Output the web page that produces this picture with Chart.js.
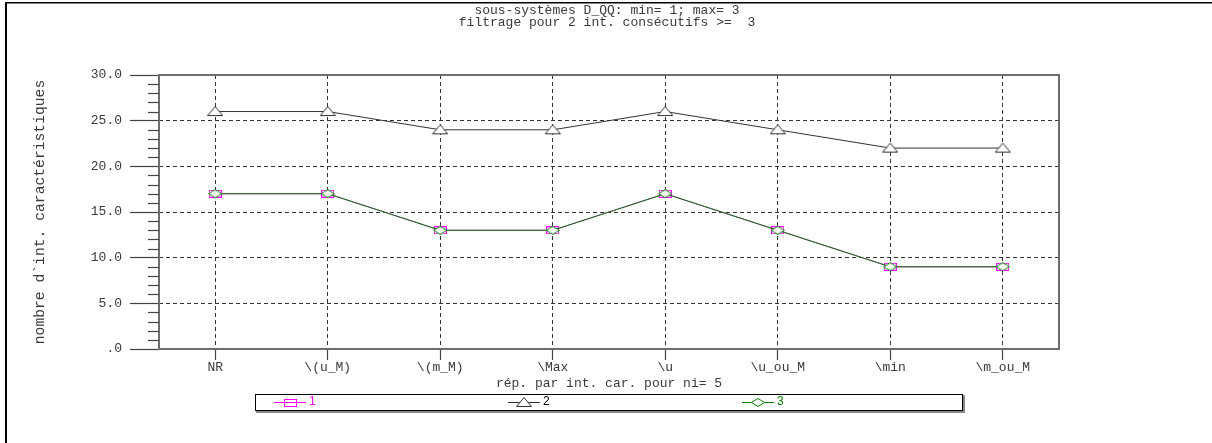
<!DOCTYPE html>
<html><head><meta charset="utf-8">
<script src="https://cdn.jsdelivr.net/npm/chart.js@4.4.1/dist/chart.umd.min.js"></script>
<style>html,body{margin:0;padding:0;background:#fff;overflow:hidden}canvas{display:block}</style>
</head><body><canvas id="c" width="1212" height="443"></canvas>
<script>
const categories = ['NR','\\(u_M)','\\(m_M)','\\Max','\\u','\\u_ou_M','\\min','\\m_ou_M'];
const series1Values = [17,17,13,13,17,13,9,9];
const series2Values = [26,26,24,24,26,24,22,22];
const series3Values = [17,17,13,13,17,13,9,9];
const seriesNames = ['1','2','3'];
const yTickLabels = ['.0','5.0','10.0','15.0','20.0','25.0','30.0'];
const titleLines = ['sous-systèmes D_QQ: min= 1; max= 3','filtrage pour 2 int. consécutifs >=  3'];
const xAxisTitle = 'rép. par int. car. pour ni= 5';
const yAxisTitle = 'nombre d`int. caractéristiques';

const MONO = '"Liberation Mono", "Courier New", monospace';
const TEXT = '#3a3a3a';

function makeMarker(w,h,draw){const c=document.createElement('canvas');c.width=w;c.height=h;const g=c.getContext('2d');draw(g,w,h);return c;}
const squareMarker = makeMarker(13,8,(g,w,h)=>{g.strokeStyle='#ff00ff';g.lineWidth=1;g.strokeRect(0.5,0.5,w-1,h-1);});
const triangleMarker = makeMarker(16,11,(g,w,h)=>{g.beginPath();g.moveTo(0.5,h-1.5);g.lineTo(w/2,0.5);g.lineTo(w-0.5,h-1.5);g.closePath();g.fillStyle='#fff';g.fill();g.strokeStyle='#333';g.lineWidth=1;g.stroke();});
const diamondMarker = makeMarker(14,9,(g,w,h)=>{g.beginPath();g.moveTo(0.5,h/2);g.lineTo(w/2,0.5);g.lineTo(w-0.5,h/2);g.lineTo(w/2,h-0.5);g.closePath();g.fillStyle='#fff';g.fill();g.strokeStyle='#008000';g.lineWidth=1;g.stroke();});

const decor = {
  id:'decor',
  afterDraw(chart){
    const ctx=chart.ctx, a=chart.chartArea, y=chart.scales.y;
    ctx.save();
    ctx.fillStyle='#000';
    ctx.fillRect(5,2,2,441);
    ctx.fillRect(5,2,1207,1.5);
    ctx.strokeStyle='#6e6e6e'; ctx.lineWidth=2;
    ctx.strokeRect(a.left, a.top, a.right-a.left, a.bottom-a.top);
    ctx.strokeStyle='#444'; ctx.lineWidth=1.2;
    for(let v=y.min; v<=y.max; v++){
      if(v%5===0) continue;
      const py=Math.round(y.getPixelForValue(v))+0.5;
      ctx.beginPath(); ctx.moveTo(a.left-11,py); ctx.lineTo(a.left,py); ctx.stroke();
    }
    ctx.fillStyle=TEXT; ctx.font='13px '+MONO; ctx.textAlign='center'; ctx.textBaseline='middle';
    titleLines.forEach((t,i)=>ctx.fillText(t, 607, 11+i*11.5));
    // legend
    const bx=255, by=394, bw=707, bh=16;
    ctx.strokeStyle='#000'; ctx.lineWidth=1;
    ctx.strokeRect(bx+0.5,by+0.5,bw,bh);
    ctx.strokeStyle='#888'; ctx.lineWidth=2;
    ctx.beginPath(); ctx.moveTo(bx+bw+2,by+1); ctx.lineTo(bx+bw+2,by+bh+2); ctx.lineTo(bx+1,by+bh+2); ctx.stroke();
    const ly = by+8.5;
    chart.data.datasets.forEach((ds,i)=>{
      const cx = bx+35+i*234;
      ctx.strokeStyle=ds.borderColor; ctx.lineWidth=1;
      ctx.beginPath(); ctx.moveTo(cx-16,ly); ctx.lineTo(cx+16,ly); ctx.stroke();
      const m=ds.pointStyle;
      ctx.drawImage(m, Math.round(cx-m.width/2), Math.round(ly-m.height/2));
      ctx.fillStyle=ds.legendColor; ctx.font='12px "Liberation Sans", Arial, sans-serif';
      ctx.textAlign='left'; ctx.textBaseline='middle';
      ctx.fillText(ds.label, cx+19, ly-1);
    });
    ctx.restore();
  }
};

new Chart(document.getElementById('c'), {
  type:'line',
  data:{
    labels: categories,
    datasets:[
      {label:seriesNames[0], data:series1Values, borderColor:'#ff00ff', legendColor:'#ff00ff', borderWidth:1, pointStyle:squareMarker, pointRadius:5, order:3, tension:0},
      {label:seriesNames[1], data:series2Values, borderColor:'#333333', legendColor:'#000000', borderWidth:1, pointStyle:triangleMarker, pointRadius:5, order:2, tension:0},
      {label:seriesNames[2], data:series3Values, borderColor:'#008000', legendColor:'#008000', borderWidth:1, pointStyle:diamondMarker, pointRadius:5, order:1, tension:0}
    ]
  },
  options:{
    responsive:false, animation:false, events:[],
    layout:{padding:{left:20, top:75, right:153, bottom:49}},
    plugins:{legend:{display:false}, title:{display:false}, tooltip:{enabled:false}},
    scales:{
      x:{
        type:'category', offset:true,
        grid:{offset:false, color:'#333', lineWidth:1, drawTicks:true, tickLength:11, tickColor:'#444', tickWidth:1.2, tickBorderDash:[]},
        border:{display:false, dash:[4,3]},
        ticks:{font:{family:MONO, size:13, lineHeight:1.2}, color:TEXT, padding:0, maxRotation:0, autoSkip:false},
        title:{display:true, text:xAxisTitle, font:{family:MONO, size:13, lineHeight:1.2}, color:TEXT, padding:{top:0,bottom:3}},
        afterFit(s){ s.height=45; }
      },
      y:{
        min:0, max:30,
        grid:{color:(c)=> (c.tick && (c.tick.value===0 || c.tick.value===30)) ? 'rgba(0,0,0,0)' : '#333', lineWidth:1, tickLength:29, tickColor:'#444', tickWidth:1.2, tickBorderDash:[]},
        border:{display:false, dash:[4,3]},
        ticks:{stepSize:5, font:{family:MONO, size:13}, color:TEXT, padding:8, callback:(v)=> yTickLabels[Math.round(v/5)]},
        title:{display:true, text:yAxisTitle, font:{family:MONO, size:14.7, lineHeight:1.2}, color:TEXT, padding:{top:11,bottom:0}},
        afterFit(s){ s.width=139; }
      }
    }
  },
  plugins:[decor]
});
</script>
</body></html>
